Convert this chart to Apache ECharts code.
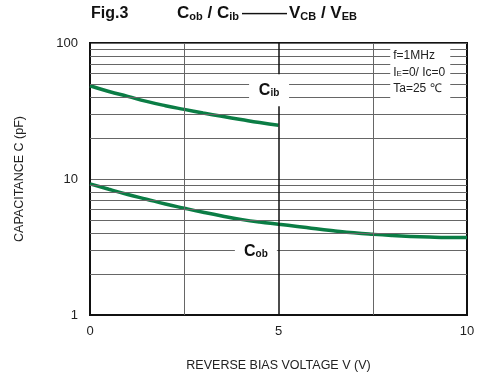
<!DOCTYPE html>
<html>
<head>
<meta charset="utf-8">
<script src="https://cdn.jsdelivr.net/npm/echarts@6/dist/echarts.min.js"></script>
<style>
  html, body { margin: 0; padding: 0; background: #fff; }
  #chart { width: 477px; height: 373px; }
</style>
</head>
<body>
<div id="chart"></div>
<script>
// Reverse bias voltage (V) sample points
const voltage = [0, 0.5, 1, 1.5, 2, 2.5, 3, 3.5, 4, 4.5, 5, 5.5, 6, 6.5, 7, 7.5, 8, 8.5, 9, 9.5, 10];
// Input capacitance Cib (pF), measured 0..5 V
const cib = [48.5, 44, 40.5, 37.2, 34.6, 32.5, 30.6, 28.9, 27.4, 26.0, 24.8];
// Output capacitance Cob (pF), measured 0..10 V
const cob = [9.2, 8.4, 7.7, 7.1, 6.55, 6.1, 5.7, 5.35, 5.05, 4.82, 4.65, 4.48, 4.3, 4.15, 4.02, 3.92, 3.84, 3.78, 3.74, 3.72, 3.72];
// Minor log gridlines and voltage gridlines
const minorC = [2, 3, 4, 5, 6, 7, 8, 9, 20, 30, 40, 50, 60, 70, 80, 90];
const minorV = [2.5, 7.5];
const majorV = [5];
// Tick labels
const xTicks = [0, 5, 10];
const yTicks = [1, 10, 100];

const green = '#0b7d45';
const gridGray = '#666666';
const font = 'Arial, "Liberation Sans", sans-serif';

const chart = echarts.init(document.getElementById('chart'), null, { renderer: 'canvas' });

const cibData = cib.map((c, i) => [voltage[i], c]);
const cobData = cob.map((c, i) => [voltage[i], c]);

const boldRich = {
  b: { fontSize: 16, fontWeight: 'bold', color: '#111', fontFamily: font },
  s: { fontSize: 10, fontWeight: 'bold', color: '#111', fontFamily: font, padding: [6, 0, 0, 0] }
};

chart.setOption({
  animation: false,
  backgroundColor: '#fff',
  title: [
    {
      text: 'Fig.3',
      left: 91, top: 6, padding: 0,
      textStyle: { fontFamily: font, fontSize: 16, fontWeight: 'bold', color: '#111' }
    },
    {
      text: '{b|C}{s|ob}{b| / C}{s|ib}{d|———}{b|V}{s|CB}{b| / V}{s|EB}',
      left: 177, top: 5, padding: 0,
      textStyle: {
        fontFamily: font,
        rich: {
          b: { fontSize: 17, fontWeight: 'bold', color: '#111', fontFamily: font },
          s: { fontSize: 11, fontWeight: 'bold', color: '#111', fontFamily: font, padding: [6, 0, 0, 0] },
          d: { fontSize: 15, fontWeight: 'bold', color: '#111', fontFamily: font, padding: [0, 2, 0, 3] }
        }
      }
    }
  ],
  grid: {
    left: 90, right: 10, top: 43, bottom: 58,
    containLabel: false, outerBoundsMode: 'none',
    show: true, borderColor: '#111', borderWidth: 2, backgroundColor: 'transparent'
  },
  xAxis: {
    type: 'value', min: 0, max: 10, interval: 5,
    name: 'REVERSE BIAS VOLTAGE V (V)', nameLocation: 'middle', nameGap: 44,
    nameTextStyle: { fontFamily: font, fontSize: 12.5, color: '#222' },
    axisLine: { show: true, lineStyle: { color: '#111', width: 2 } },
    axisTick: { show: false },
    splitLine: { show: false },
    axisLabel: {
      fontFamily: font, fontSize: 13, color: '#222', margin: 10,
      formatter: v => (xTicks.indexOf(v) >= 0 ? String(v) : '')
    }
  },
  yAxis: {
    type: 'log', logBase: 10, min: 1, max: 100,
    name: 'CAPACITANCE C (pF)', nameLocation: 'middle', nameGap: 64, nameRotate: 90,
    nameTextStyle: { fontFamily: font, fontSize: 12.5, color: '#222' },
    axisLine: { show: true, lineStyle: { color: '#111', width: 2 } },
    axisTick: { show: false },
    splitLine: { show: true, lineStyle: { color: gridGray, width: 1 } },
    axisLabel: {
      fontFamily: font, fontSize: 13, color: '#222', margin: 12, padding: [3, 0, 0, 0],
      formatter: v => (yTicks.indexOf(Math.round(v)) >= 0 ? String(Math.round(v)) : '')
    }
  },
  series: [
    {
      // gridlines
      type: 'line', data: [], z: 1, silent: true,
      markLine: {
        silent: true, symbol: 'none', animation: false,
        label: { show: false },
        data: [
          ...minorC.map(c => ({ yAxis: c, lineStyle: { color: gridGray, width: 1, type: 'solid' } })),
          ...minorV.map(v => ({ xAxis: v, lineStyle: { color: gridGray, width: 1, type: 'solid' } })),
          ...majorV.map(v => ({ xAxis: v, lineStyle: { color: '#111', width: 1.5, type: 'solid' } }))
        ]
      }
    },
    {
      // label boxes over the grid
      type: 'scatter', data: [], z: 3, silent: true,
      markPoint: {
        silent: true, animation: false,
        data: [
          {
            coord: [4.75, 45], symbol: 'rect', symbolSize: [40, 32],
            itemStyle: { color: '#fff' },
            label: {
              show: true, position: 'inside',
              formatter: '{b|C}{s|ib}',
              rich: boldRich
            }
          },
          {
            coord: [4.4, 2.95], symbol: 'rect', symbolSize: [42, 32],
            itemStyle: { color: '#fff' },
            label: {
              show: true, position: 'inside',
              formatter: '{b|C}{s|ob}',
              rich: boldRich
            }
          },
          {
            coord: [8.76, 61], symbol: 'rect', symbolSize: [60, 56],
            itemStyle: { color: '#fff' },
            label: {
              show: true, position: 'inside', align: 'left', offset: [-27, 0],
              lineHeight: 16,
              formatter: '{t|f=1MHz}\n{t|I}{u|E}{t|=0/ Ic=0}\n{t|Ta=25 ℃}',
              rich: {
                t: { fontSize: 12, color: '#222', fontFamily: font, lineHeight: 16.5 },
                u: { fontSize: 8, color: '#222', fontFamily: font, lineHeight: 16.5, padding: [4, 0, 0, 0] }
              }
            }
          }
        ]
      }
    },
    {
      name: 'Cib', type: 'line', data: cibData, smooth: true, showSymbol: false, z: 4,
      lineStyle: { color: green, width: 3.5 }
    },
    {
      name: 'Cob', type: 'line', data: cobData, smooth: true, showSymbol: false, z: 4,
      lineStyle: { color: green, width: 3.5 }
    }
  ]
});
</script>
</body>
</html>
